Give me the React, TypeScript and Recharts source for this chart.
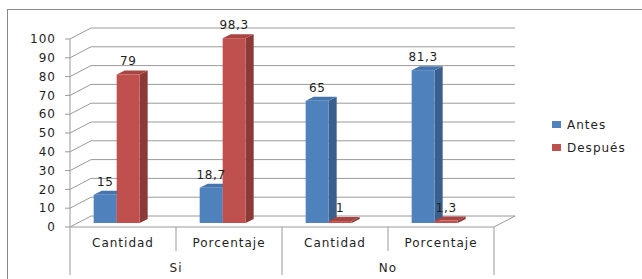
import { BarChart, Bar, XAxis, YAxis, CartesianGrid, LabelList, Legend } from "recharts";

const categories = ["Cantidad", "Porcentaje", "Cantidad", "Porcentaje"];
const groups = ["Si", "Si", "No", "No"];
const antes = [15, 18.7, 65, 81.3];
const despues = [79, 98.3, 1, 1.3];
const yTicks = [0, 10, 20, 30, 40, 50, 60, 70, 80, 90, 100];

const data = categories.map((c, i) => ({
  name: c,
  group: groups[i],
  antes: antes[i],
  despues: despues[i],
}));

// 3d look: wall depth, bar placement inside depth, bar thickness
const WALL_DX = 21;
const WALL_DY = 11;
const BAR_DX = -6;
const BAR_DY = -4;
const SIDE = 8;
const TOP = 4;

const LINE = "#9a9a9a";
const TEXT = "#1f1f1f";

const fmt = (v: number) => String(v).replace(".", ",");

function Bar3D(props: any) {
  const { x, y, width, height, fill, side, top } = props;
  const x0 = x + BAR_DX;
  const y0 = y + BAR_DY;
  const x1 = x0 + width;
  const y1 = y0 + height;
  return (
    <g>
      <polygon
        points={`${x1},${y0} ${x1 + SIDE},${y0 - TOP} ${x1 + SIDE},${y1 - TOP} ${x1},${y1}`}
        fill={side}
      />
      <polygon
        points={`${x0},${y0} ${x0 + SIDE},${y0 - TOP} ${x1 + SIDE},${y0 - TOP} ${x1},${y0}`}
        fill={top}
      />
      <rect x={x0} y={y0} width={width} height={height} fill={fill} />
    </g>
  );
}

function ValueLabel(props: any) {
  const { x, y, width, value } = props;
  return (
    <text
      x={x + BAR_DX + width / 2}
      y={y + BAR_DY - 9}
      textAnchor="middle"
      fontSize={12}
      fill={TEXT}
      style={{ letterSpacing: 0.6 }}
    >
      {fmt(value)}
    </text>
  );
}

function GridLine(props: any) {
  const { x1, x2, y1, index } = props;
  const yb = y1 - WALL_DY;
  return (
    <g key={`g-${index}-${y1}`}>
      <polyline
        points={`${x1},${y1} ${x1 + WALL_DX},${yb} ${x2 + WALL_DX},${yb}`}
        fill="none"
        stroke={LINE}
        strokeWidth={1}
      />
      {Math.abs(y1 - 227) < 1 && (
        <line x1={x2} y1={y1} x2={x2 + WALL_DX} y2={yb} stroke={LINE} />
      )}
    </g>
  );
}

function CategoryTick(props: any) {
  const { x, y, payload } = props;
  const half = payload.offset || 53;
  const i = payload.index;
  const left = x - half;
  return (
    <g>
      <line x1={left} y1={y} x2={left} y2={y + (i % 2 === 0 ? 48 : 24)} stroke={LINE} />
      {i === categories.length - 1 && (
        <line x1={x + half} y1={y} x2={x + half} y2={y + 48} stroke={LINE} />
      )}
      <text x={x} y={y + 20} textAnchor="middle" fontSize={12} fill={TEXT} style={{ letterSpacing: 1 }}>
        {payload.value}
      </text>
      {i % 2 === 0 && (
        <text x={x + half} y={y + 45} textAnchor="middle" fontSize={12} fill={TEXT} style={{ letterSpacing: 1 }}>
          {groups[i]}
        </text>
      )}
    </g>
  );
}

function LegendBox(props: any) {
  const items = props.payload || [];
  return (
    <div style={{ fontFamily: "DejaVu Sans", fontSize: 12, color: TEXT, letterSpacing: 1 }}>
      {items.map((it: any) => (
        <div key={it.value} style={{ display: "flex", alignItems: "center", height: 23 }}>
          <span style={{ display: "inline-block", width: 9, height: 7, background: it.color, marginRight: 6 }} />
          {it.value}
        </div>
      ))}
    </div>
  );
}

export default function App() {
  return (
    <div
      style={{
        position: "absolute",
        left: 0,
        top: 0,
        width: 642,
        height: 279,
        background: "#fff",
        overflow: "hidden",
        fontFamily: "DejaVu Sans",
      }}
    >
      <div
        style={{
          position: "absolute",
          left: 7,
          top: 9,
          width: 700,
          height: 300,
          borderLeft: "1px solid #8a8a8a",
          borderTop: "1px solid #8a8a8a",
        }}
      />
      <BarChart
        width={642}
        height={279}
        data={data}
        margin={{ top: 39, right: 148, bottom: 0, left: 0 }}
        barCategoryGap="28%"
        barGap={0}
        style={{ position: "absolute", left: 0, top: 0 }}
      >
        <CartesianGrid vertical={false} horizontal={GridLine as any} />
        <XAxis
          dataKey="name"
          height={52}
          tickLine={false}
          tickSize={0}
          tickMargin={0}
          axisLine={{ stroke: LINE }}
          tick={<CategoryTick />}
          interval={0}
        />
        <YAxis
          width={70}
          domain={[0, 100]}
          ticks={yTicks}
          interval={0}
          tickSize={5}
          tickMargin={9}
          axisLine={{ stroke: LINE }}
          tickLine={{ stroke: LINE }}
          tick={{ fontSize: 12, fill: TEXT, style: { letterSpacing: 1 } }}
        />
        <Legend
          layout="horizontal"
          verticalAlign="middle"
          align="center"
          content={<LegendBox />}
          wrapperStyle={{ left: 552, top: 113, width: 90 }}
        />
        <Bar
          dataKey="antes"
          name="Antes"
          fill="#4F81BD"
          isAnimationActive={false}
          shape={(p: any) => <Bar3D {...p} side="#3A5F8C" top="#4675AD" />}
        >
          <LabelList dataKey="antes" content={<ValueLabel />} />
        </Bar>
        <Bar
          dataKey="despues"
          name="Después"
          fill="#C0504D"
          isAnimationActive={false}
          shape={(p: any) => <Bar3D {...p} side="#8C3A38" top="#A84542" />}
        >
          <LabelList dataKey="despues" content={<ValueLabel />} />
        </Bar>
      </BarChart>
    </div>
  );
}
